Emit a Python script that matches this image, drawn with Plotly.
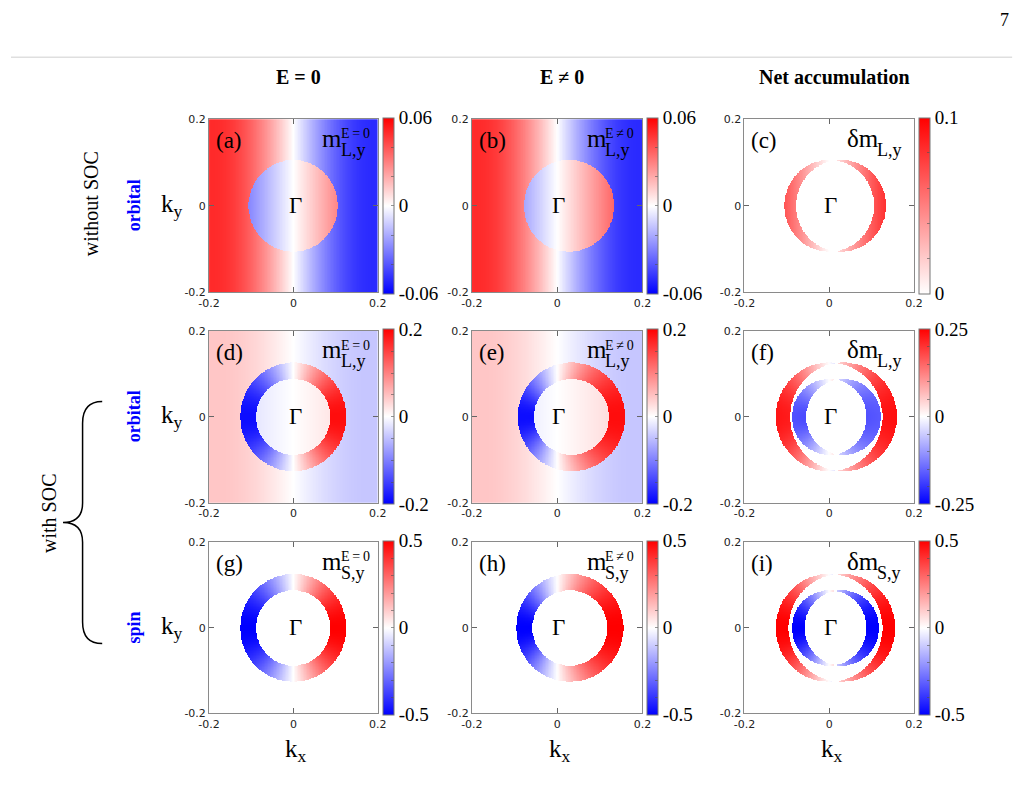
import numpy as np
import plotly.graph_objects as go

W, H = 1029, 808

# ---------------- data ----------------
k_limits = [-0.2, 0.2]
k_ticks = [-0.2, 0, 0.2]
k_tick_text = ["-0.2", "0", "0.2"]
n_grid = 281

col_titles = ["E = 0", "E ≠ 0", "Net accumulation"]
panel_tags = [["(a)", "(b)", "(c)"], ["(d)", "(e)", "(f)"], ["(g)", "(h)", "(i)"]]
quantity_base = ["m", "m", "δm"]
quantity_sub = ["L,y", "L,y", "S,y"]          # per row
quantity_sup = ["E\u2009=\u20090", "E\u2009≠\u20090", ""]   # per column
row_side_labels = ["orbital", "orbital", "spin"]

# per-row field parameters (rows: no-SOC orbital, SOC orbital, SOC spin)
inner_radius = [0.106, 0.088, 0.088]    # Fermi-surface inner edge
outer_radius = [0.106, 0.126, 0.126]    # Fermi-surface outer edge
e_field_shift = [0.028, 0.034, 0.030]   # shift of the Fermi surface for E != 0
ring_amp = [0.0, 0.19, 0.5]             # amplitude on the ring
inner_slope = [0.27, 0.22, 0.0]         # value / kx inside the ring
bg_amp = [0.05, 0.045, 0.0]             # amplitude outside the ring
bg_peak_k = [0.19, 0.18, 0.18]          # |kx| where the outside value peaks

cbar_min = [[-0.06, -0.06, 0.0], [-0.2, -0.2, -0.25], [-0.5, -0.5, -0.5]]
cbar_max = [[0.06, 0.06, 0.1], [0.2, 0.2, 0.25], [0.5, 0.5, 0.5]]
cbar_step = [[0.02, 0.02, 0.02], [0.05, 0.05, 0.05], [0.1, 0.1, 0.1]]

# ---------------- layout geometry (pixels) ----------------
col_x = [[202, 374], [470, 644], [748, 921]]
row_y = [[115, 291], [330, 505], [545, 719]]


def fx(p):
    return p / W


def fy(p):
    return 1 - p / H


k = np.linspace(k_limits[0], k_limits[1], n_grid)
KX, KY = np.meshgrid(k, k)


def field(row, shift):
    rs = np.hypot(KX - shift, KY)
    r0 = np.maximum(np.hypot(KX, KY), 1e-9)
    bg = -bg_amp[row] * np.sin(np.pi * KX / (2 * bg_peak_k[row]))
    inner = inner_slope[row] * KX
    ring = ring_amp[row] * KX / r0
    return np.where(rs < inner_radius[row], inner,
                    np.where(rs < outer_radius[row], ring, bg))


bwr = [[0, "rgb(0,0,255)"], [0.5, "rgb(255,255,255)"], [1, "rgb(255,0,0)"]]
wr = [[0, "rgb(255,255,255)"], [1, "rgb(255,0,0)"]]

serif = "Liberation Serif"
sans = "DejaVu Sans"

fig = go.Figure()
annotations = []
layout_axes = {}

for r in range(3):
    z0 = field(r, 0.0)
    z1 = field(r, e_field_shift[r])
    zs = [z0, z1, z1 - z0]
    for c in range(3):
        i = r * 3 + c
        xa = "x" if i == 0 else f"x{i+1}"
        ya = "y" if i == 0 else f"y{i+1}"
        x0, x1 = col_x[c]
        y0, y1 = row_y[r]
        lo, hi, st = cbar_min[r][c], cbar_max[r][c], cbar_step[r][c]
        nt = int(round((hi - lo) / st))
        tv = [round(lo + j * st, 4) for j in range(nt + 1)]
        tt = []
        for v in tv:
            if abs(v) < 1e-9:
                tt.append("0")
            elif abs(v - hi) < 1e-9 or abs(v - lo) < 1e-9:
                tt.append(f"{v:g}")
            else:
                tt.append("")
        fig.add_trace(go.Heatmap(
            x=k, y=k, z=np.round(zs[c], 4),
            zmin=lo, zmax=hi,
            colorscale=wr if lo == 0 else bwr,
            xaxis=xa, yaxis=ya,
            hoverinfo="skip",
            colorbar=dict(
                x=fx(x1 + 5), xanchor="left",
                y=fy((y0 + y1) / 2), yanchor="middle",
                len=y1 - y0, lenmode="pixels",
                thickness=11, thicknessmode="pixels",
                xpad=0, ypad=0,
                outlinewidth=1, outlinecolor="#777",
                tickmode="array", tickvals=tv, ticktext=tt,
                ticks="inside", ticklen=3, tickcolor="rgba(80,80,80,0.6)",
                tickfont=dict(family=serif, size=19, color="black"),
            ),
        ))
        axis_common = dict(
            range=k_limits, tickmode="array", tickvals=k_ticks, ticktext=k_tick_text,
            ticks="inside", ticklen=5, tickcolor="#666", showline=True,
            linecolor="#8a8a8a", linewidth=1, mirror="ticks", showgrid=False,
            zeroline=False, tickfont=dict(family=sans, size=11, color="#222"),
        )
        layout_axes["xaxis" if i == 0 else f"xaxis{i+1}"] = dict(
            axis_common, domain=[fx(x0), fx(x1)], anchor=ya)
        layout_axes["yaxis" if i == 0 else f"yaxis{i+1}"] = dict(
            axis_common, domain=[fy(y1), fy(y0)], anchor=xa)

        # panel tag
        annotations.append(dict(
            text=panel_tags[r][c], xref="paper", yref="paper",
            x=fx(x0 + 5), y=fy(y0 + 22), xanchor="left", yanchor="middle",
            showarrow=False, font=dict(family=serif, size=23, color="black")))
        # quantity label: base symbol, subscript, superscript
        annotations.append(dict(
            text=quantity_base[c], xref="paper", yref="paper",
            x=fx(x1 - 34), y=fy(y0 + 35), xanchor="right", yanchor="bottom",
            showarrow=False, font=dict(family=serif, size=25, color="black")))
        annotations.append(dict(
            text=quantity_sub[r], xref="paper", yref="paper",
            x=fx(x1 - 40), y=fy(y0 + 31), xanchor="left", yanchor="middle",
            showarrow=False, font=dict(family=serif, size=18, color="black")))
        if quantity_sup[c]:
            annotations.append(dict(
                text=quantity_sup[c], xref="paper", yref="paper",
                x=fx(x1 - 40), y=fy(y0 + 15), xanchor="left", yanchor="middle",
                showarrow=False, font=dict(family=serif, size=14, color="black")))
        # Gamma point
        annotations.append(dict(
            text="Γ", xref=xa, yref=ya, x=0.004, y=0, xanchor="center", yanchor="middle",
            showarrow=False, font=dict(family=serif, size=23, color="black")))

# k labels and row labels
for r in range(3):
    yc = (row_y[r][0] + row_y[r][1]) / 2
    annotations.append(dict(
        text="k<sub>y</sub>", xref="paper", yref="paper", x=fx(164), y=fy(yc),
        xanchor="center", yanchor="middle", showarrow=False,
        font=dict(family=serif, size=25, color="black")))
    annotations.append(dict(
        text=row_side_labels[r], xref="paper", yref="paper", x=fx(125), y=fy(yc),
        xanchor="center", yanchor="middle", textangle=-90, showarrow=False,
        font=dict(family=serif, size=18, color="rgb(0,0,255)", weight="bold")))
for c in range(3):
    xc = (col_x[c][0] + col_x[c][1]) / 2
    annotations.append(dict(
        text="k<sub>x</sub>", xref="paper", yref="paper", x=fx(xc + 3), y=fy(757),
        xanchor="center", yanchor="middle", showarrow=False,
        font=dict(family=serif, size=25, color="black")))
    annotations.append(dict(
        text=col_titles[c], xref="paper", yref="paper", x=fx(xc + 5), y=fy(72),
        xanchor="center", yanchor="middle", showarrow=False,
        font=dict(family=serif, size=20, color="black", weight="bold")))

annotations.append(dict(
    text="without SOC", xref="paper", yref="paper", x=fx(81), y=fy(201),
    xanchor="center", yanchor="middle", textangle=-90, showarrow=False,
    font=dict(family=serif, size=20, color="black")))
annotations.append(dict(
    text="with SOC", xref="paper", yref="paper", x=fx(38), y=fy(516),
    xanchor="center", yanchor="middle", textangle=-90, showarrow=False,
    font=dict(family=serif, size=20, color="black")))
annotations.append(dict(
    text="7", xref="paper", yref="paper", x=fx(1013), y=fy(14),
    xanchor="center", yanchor="middle", showarrow=False,
    font=dict(family=serif, size=18, color="black")))


def P(x, y):
    return f"{fx(x):.5f},{fy(y):.5f}"


brace = (f"M {P(93,402)} Q {P(73,402)} {P(73,424)} L {P(73,505)} "
         f"Q {P(73,525)} {P(53,525)} Q {P(73,525)} {P(73,545)} "
         f"L {P(73,626)} Q {P(73,648)} {P(93,648)}")

shapes = [
    dict(type="line", xref="paper", yref="paper", x0=0, x1=fx(1021), y0=fy(52), y1=fy(52),
         line=dict(color="#cfcfcf", width=1)),
    dict(type="path", xref="paper", yref="paper", path=brace,
         line=dict(color="black", width=1.5)),
]

fig.update_layout(
    width=W, height=H, margin=dict(l=0, r=0, t=0, b=0),
    paper_bgcolor="white", plot_bgcolor="white",
    showlegend=False, annotations=annotations, shapes=shapes,
    **layout_axes,
)

fig.write_html("out.html")
